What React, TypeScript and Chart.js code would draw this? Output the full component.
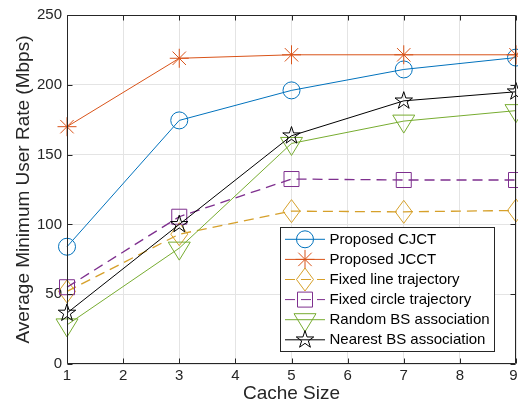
import React, { useEffect, useRef } from 'react';
import { Chart, registerables } from 'chart.js';

Chart.register(...registerables);

// ---------- data ----------
const cacheSizes = [1, 3, 5, 7, 9];
const proposedCJCT = [84, 174.5, 196, 211, 219.5];
const proposedJCCT = [170, 219, 221.5, 221.5, 221.5];
const fixedLineTrajectory = [52, 93, 109.5, 109, 110];
const fixedCircleTrajectory = [55, 105.5, 132.5, 131.8, 131.8];
const randomBSAssociation = [28, 83, 158, 174, 181.5];
const nearestBSAssociation = [36.5, 100, 163.5, 188.5, 195];

const seriesNames = [
  'Proposed CJCT',
  'Proposed JCCT',
  'Fixed line trajectory',
  'Fixed circle trajectory',
  'Random BS association',
  'Nearest BS association',
];
const seriesValues = [
  proposedCJCT,
  proposedJCCT,
  fixedLineTrajectory,
  fixedCircleTrajectory,
  randomBSAssociation,
  nearestBSAssociation,
];
const seriesColors = ['#0072BD', '#D95319', '#D6A02A', '#7E2F8E', '#77AC30', '#000000'];
const seriesMarkers = ['circle', 'asterisk', 'diamond', 'square', 'triangleDown', 'pentagram'];
const seriesDashed = [false, false, true, true, false, false];

const xTickValues = [1, 2, 3, 4, 5, 6, 7, 8, 9];
const yTickValues = [0, 50, 100, 150, 200, 250];
const xTitle = 'Cache Size';
const yTitle = 'Average Minimum User Rate (Mbps)';

const FONT = '"Liberation Sans", Arial, Helvetica, sans-serif';
const AXIS_COLOR = '#262626';
const DASH = [10, 6];

function drawMarker(ctx: CanvasRenderingContext2D, kind: string, x: number, y: number, color: string) {
  ctx.save();
  ctx.strokeStyle = color;
  ctx.lineWidth = 1;
  ctx.setLineDash([]);
  ctx.beginPath();
  if (kind === 'circle') {
    ctx.arc(x, y, 8.5, 0, Math.PI * 2);
  } else if (kind === 'asterisk') {
    const r = 9.5;
    [0, 45, 90, 135].forEach((d) => {
      const a = (d * Math.PI) / 180;
      ctx.moveTo(x - r * Math.cos(a), y - r * Math.sin(a));
      ctx.lineTo(x + r * Math.cos(a), y + r * Math.sin(a));
    });
  } else if (kind === 'diamond') {
    ctx.moveTo(x, y - 11.5);
    ctx.lineTo(x + 8.5, y);
    ctx.lineTo(x, y + 11.5);
    ctx.lineTo(x - 8.5, y);
    ctx.closePath();
  } else if (kind === 'square') {
    ctx.rect(x - 7.5, y - 7.5, 15, 15);
  } else if (kind === 'triangleDown') {
    ctx.moveTo(x - 11, y - 6);
    ctx.lineTo(x + 11, y - 6);
    ctx.lineTo(x, y + 12);
    ctx.closePath();
  } else if (kind === 'pentagram') {
    const R = 9.2;
    const r = R * 0.382;
    for (let i = 0; i < 10; i++) {
      const a = -Math.PI / 2 + (i * Math.PI) / 5;
      const rr = i % 2 === 0 ? R : r;
      const px = x + rr * Math.cos(a);
      const py = y + rr * Math.sin(a);
      if (i === 0) ctx.moveTo(px, py);
      else ctx.lineTo(px, py);
    }
    ctx.closePath();
  }
  ctx.stroke();
  ctx.restore();
}

const markerPlugin = {
  id: 'matlabMarkers',
  afterDatasetDraw(chart: any, args: any) {
    const i = args.index;
    const ctx = chart.ctx;
    args.meta.data.forEach((el: any) => {
      drawMarker(ctx, seriesMarkers[i], el.x, el.y, seriesColors[i]);
    });
  },
};

const boxPlugin = {
  id: 'matlabBox',
  afterDatasetsDraw(chart: any) {
    const ctx = chart.ctx;
    const { left, right, top, bottom } = chart.chartArea;
    const xs = chart.scales.x;
    const ys = chart.scales.y;
    const L = Math.round(left) + 0.5;
    const R = Math.round(right) - 0.5;
    const T = Math.round(top) + 0.5;
    const B = Math.round(bottom) - 0.5;
    const tl = 5;
    ctx.save();
    ctx.strokeStyle = AXIS_COLOR;
    ctx.lineWidth = 1;
    ctx.setLineDash([]);
    ctx.beginPath();
    ctx.rect(L, T, R - L, B - T);
    xTickValues.forEach((v) => {
      const px = Math.round(xs.getPixelForValue(v)) + 0.5;
      ctx.moveTo(px, B);
      ctx.lineTo(px, B - tl);
      ctx.moveTo(px, T);
      ctx.lineTo(px, T + tl);
    });
    yTickValues.forEach((v) => {
      const py = Math.round(ys.getPixelForValue(v)) + 0.5;
      ctx.moveTo(L, py);
      ctx.lineTo(L + tl, py);
      ctx.moveTo(R, py);
      ctx.lineTo(R - tl, py);
    });
    ctx.stroke();

    // x tick labels (last one kept inside the canvas, as in the reference)
    ctx.fillStyle = AXIS_COLOR;
    ctx.font = `15px ${FONT}`;
    ctx.textAlign = 'center';
    ctx.textBaseline = 'middle';
    const maxX = chart.width - 4.5;
    xTickValues.forEach((v) => {
      const px = Math.min(xs.getPixelForValue(v), maxX);
      ctx.fillText(String(v), px, bottom + 12);
    });
    ctx.restore();
  },
};

const legendPlugin = {
  id: 'matlabLegend',
  afterDraw(chart: any) {
    const ctx = chart.ctx;
    const bx = 280.5;
    const by = 227.5;
    const bw = 214;
    const bh = 124;
    ctx.save();
    ctx.fillStyle = '#ffffff';
    ctx.fillRect(bx, by, bw, bh);
    ctx.strokeStyle = AXIS_COLOR;
    ctx.lineWidth = 1;
    ctx.setLineDash([]);
    ctx.strokeRect(bx, by, bw, bh);
    const rowH = 20.1;
    const firstY = 239.3;
    seriesNames.forEach((name, i) => {
      const cy = firstY + i * rowH;
      ctx.save();
      ctx.strokeStyle = seriesColors[i];
      ctx.lineWidth = 1;
      ctx.setLineDash(seriesDashed[i] ? DASH : []);
      ctx.beginPath();
      ctx.moveTo(285, cy);
      ctx.lineTo(325, cy);
      ctx.stroke();
      ctx.restore();
      drawMarker(ctx, seriesMarkers[i], 305, cy, seriesColors[i]);
      ctx.fillStyle = '#000000';
      ctx.font = `15px ${FONT}`;
      ctx.textAlign = 'left';
      ctx.textBaseline = 'middle';
      ctx.fillText(name, 329.5, cy + 0.5);
    });
    ctx.restore();
  },
};

export default function App() {
  const canvasRef = useRef<HTMLCanvasElement | null>(null);

  useEffect(() => {
    const canvas = canvasRef.current;
    if (!canvas) return;
    const datasets = seriesNames.map((name, i) => ({
      label: name,
      data: cacheSizes.map((x, j) => ({ x, y: seriesValues[i][j] })),
      borderColor: seriesColors[i],
      backgroundColor: seriesColors[i],
      borderWidth: seriesDashed[i] ? 1.3 : 1,
      borderDash: seriesDashed[i] ? DASH : [],
      pointRadius: 0,
      pointHoverRadius: 0,
      fill: false,
      tension: 0,
      clip: false as any,
      order: seriesNames.length - i,
    }));

    const chart = new Chart(canvas, {
      type: 'line',
      data: { datasets },
      plugins: [markerPlugin, boxPlugin, legendPlugin],
      options: {
        animation: false,
        responsive: false,
        devicePixelRatio: 1,
        layout: { padding: { top: 15, right: 2, left: 0, bottom: 0 } },
        plugins: {
          legend: { display: false },
          tooltip: { enabled: false },
          title: { display: false },
        },
        events: [],
        scales: {
          x: {
            type: 'linear',
            min: 1,
            max: 9,
            afterBuildTicks: (scale: any) => {
              scale.ticks = xTickValues.map((v) => ({ value: v }));
            },
            afterFit: (scale: any) => {
              scale.height = 48;
              scale.paddingLeft = 0;
              scale.paddingRight = 0;
            },
            ticks: {
              display: false,
              autoSkip: false,
              maxRotation: 0,
              minRotation: 0,
            },
            grid: { color: '#e4e4e4', lineWidth: 1, drawTicks: false },
            border: { display: false },
            title: {
              display: true,
              text: xTitle,
              color: AXIS_COLOR,
              font: { family: FONT, size: 19 },
              padding: { top: 0, bottom: 7 },
            },
          },
          y: {
            type: 'linear',
            min: 0,
            max: 250,
            afterBuildTicks: (scale: any) => {
              scale.ticks = yTickValues.map((v) => ({ value: v }));
            },
            afterFit: (scale: any) => {
              scale.width = 67;
              scale.paddingTop = 0;
              scale.paddingBottom = 0;
            },
            ticks: {
              padding: 5,
              color: AXIS_COLOR,
              font: { family: FONT, size: 15 },
            },
            grid: { color: '#e4e4e4', lineWidth: 1, drawTicks: false },
            border: { display: false },
            title: {
              display: true,
              text: yTitle,
              color: AXIS_COLOR,
              font: { family: FONT, size: 19 },
              padding: { top: 12, bottom: 0 },
            },
          },
        },
      } as any,
    });
    return () => chart.destroy();
  }, []);

  return (
    <div style={{ position: 'absolute', left: 0, top: 0, width: 518, height: 412, background: '#ffffff' }}>
      <canvas ref={canvasRef} width={518} height={412} style={{ display: 'block' }} />
    </div>
  );
}
